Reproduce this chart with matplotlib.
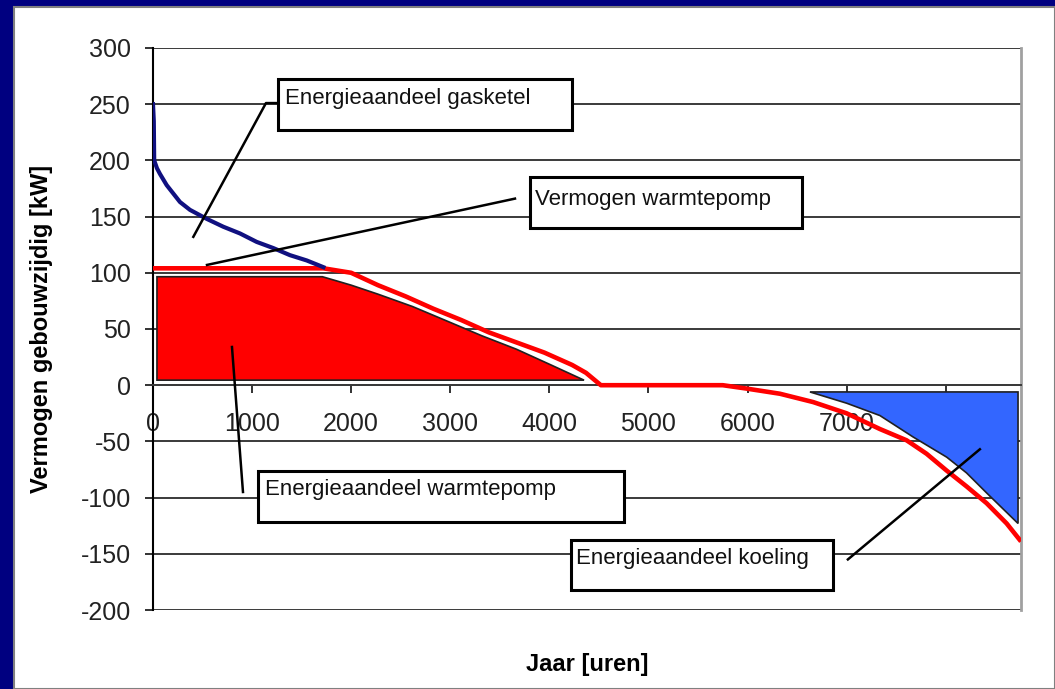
import matplotlib.pyplot as plt
from matplotlib.patches import Rectangle, Polygon

plt.rcParams['font.family'] = ['Liberation Sans', 'DejaVu Sans']

# Jaarbelastingduurkromme (uren, kW)
uren_gas = [0, 8, 12, 40, 70, 138, 205, 272, 373, 542, 709, 878, 1046, 1214, 1382, 1551, 1720]
kw_gas = [250, 235, 200, 193, 188, 178, 170.5, 163, 156, 148, 141, 135, 127.5, 122, 115.7, 111, 105]

uren_wp = [0, 1720, 2000, 2270, 2550, 2830, 3110, 3390, 3670, 3950, 4230, 4370, 4520,
           5750, 5990, 6327, 6662, 7000, 7336, 7605, 7807, 8010, 8210, 8413, 8615, 8760]
kw_wp = [104, 104, 100, 89, 79, 68, 58, 47, 38, 29, 18, 11, 0,
         0, -3, -7.6, -15, -25, -39, -49, -61, -76, -90, -105, -123, -139]

# Vlak energieaandeel warmtepomp
vlak_wp_x = [40, 40, 1710, 2000, 2270, 2619, 2969, 3318, 3668, 4017, 4350]
vlak_wp_y = [4.5, 96.5, 96.5, 89, 81, 70, 57, 44, 32, 18, 4.5]

# Vlak energieaandeel koeling
vlak_koel_x = [6630, 8730, 8730, 8415, 8210, 8010, 7670, 7336, 7000]
vlak_koel_y = [-6, -6, -123, -96, -78, -64, -46, -27, -16]

x_ticks = [0, 1000, 2000, 3000, 4000, 5000, 6000, 7000, 8000]
y_ticks = list(range(-200, 301, 50))

fig = plt.figure(figsize=(10.55, 6.89), dpi=100)
fig.patch.set_facecolor('#000080')
fig.patches.append(Rectangle((14 / 1055, 0), 1 - 14 / 1055, 682 / 689, transform=fig.transFigure,
                             facecolor='white', edgecolor='#808080', linewidth=1.5, zorder=-10))

ax = fig.add_axes([153 / 1055, 1 - 610 / 689, 868 / 1055, 562 / 689])
ax.set_facecolor('white')
ax.set_xlim(0, 8760)
ax.set_ylim(-200, 300)
ax.set_axisbelow(True)

# vlakken
ax.add_patch(Polygon(list(zip(vlak_wp_x, vlak_wp_y)), closed=True, facecolor='#ff0000',
                     edgecolor='#202020', linewidth=1.2, zorder=2))
ax.add_patch(Polygon(list(zip(vlak_koel_x, vlak_koel_y)), closed=True, facecolor='#3366ff',
                     edgecolor='#202020', linewidth=1.2, zorder=2))

# lijnen
ax.plot(uren_wp, kw_wp, color='#ff0000', linewidth=3.3, zorder=4, solid_capstyle='butt')
ax.plot(uren_gas, kw_gas, color='#101080', linewidth=3.0, zorder=5)

# assen
ax.grid(axis='y', color='#3a3a3a', linewidth=1.4)
ax.spines['top'].set_visible(False)
ax.spines['right'].set_color('#a0a0a0')
ax.spines['right'].set_linewidth(2)
ax.spines['left'].set_color('black')
ax.spines['left'].set_linewidth(1.5)
ax.spines['bottom'].set_position(('data', 0))
ax.spines['bottom'].set_color('#3a3a3a')
ax.spines['bottom'].set_linewidth(1.4)

ax.set_xticks(x_ticks)
ax.set_xticklabels([str(t) for t in x_ticks])
ax.set_yticks(y_ticks)
ax.set_yticklabels([str(t) for t in y_ticks])
ax.tick_params(axis='x', direction='out', length=6, width=1.3, pad=13, labelsize=18, colors='#222222')
ax.tick_params(axis='y', direction='out', length=6, width=1.3, pad=10, labelsize=18, colors='#222222')

ax.set_ylabel('Vermogen gebouwzijdig [kW]', fontsize=17, fontweight='bold', labelpad=20)
ax.set_xlabel('Jaar [uren]', fontsize=17, fontweight='bold', labelpad=0)
ax.xaxis.set_label_coords(0.5, -0.077)

# tekstvakken met verbindingslijnen
vakken = [
    ('Energieaandeel gasketel', (1261, 227), 2967, 45, (1332, 250), [(1261, 251), (1140, 251)], (407, 132)),
    ('Vermogen warmtepomp', (3804, 140), 2745, 45, (3860, 160), [(3653, 166)], (545, 107)),
    ('Energieaandeel warmtepomp', (1060, -122), 3693, 46, (1130, -98), [(908, -95)], (797, 34)),
    ('Energieaandeel koeling', (4218, -182), 2644, 44, (4268, -159), [(7013, -155)], (8345, -57)),
]
for tekst, hoek, breedte, hoogte, tpos, lijn, eind in vakken:
    pts = lijn + [eind]
    ax.plot([p[0] for p in pts], [p[1] for p in pts], color='black', linewidth=1.8, zorder=6)
    ax.add_patch(Rectangle(hoek, breedte, hoogte, facecolor='white', edgecolor='black',
                           linewidth=2.2, zorder=7))
    ax.text(tpos[0], tpos[1], tekst, fontsize=16, color='#111111', ha='left', va='baseline', zorder=8)

fig.savefig('out.png', dpi=100, facecolor=fig.get_facecolor())
